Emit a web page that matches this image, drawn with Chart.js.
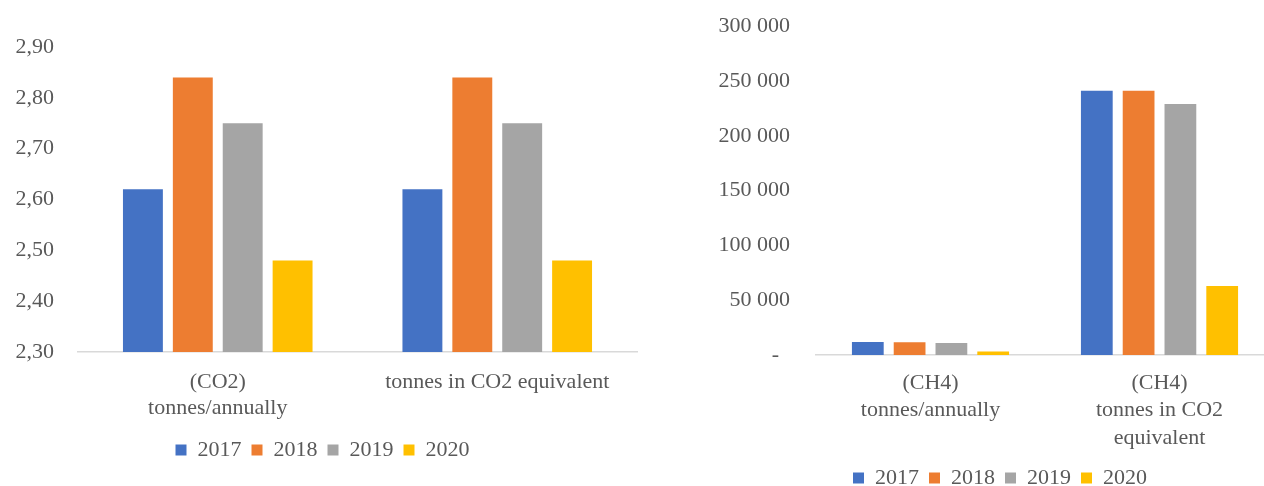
<!DOCTYPE html>
<html>
<head>
<meta charset="utf-8">
<script src="https://cdn.jsdelivr.net/npm/chart.js@4"></script>
<style>
  html, body { margin: 0; padding: 0; background: #fff; overflow: hidden; width: 1264px; height: 486px; }
  #co2 { position: absolute; left: 0; top: 0; }
  #ch4 { position: absolute; left: 700px; top: -13px; }
</style>
</head>
<body>
<canvas id="co2" width="650" height="486"></canvas>
<canvas id="ch4" width="600" height="523"></canvas>
<script>
const years = ['2017', '2018', '2019', '2020'];
const colors = ['#4472C4', '#ED7D31', '#A5A5A5', '#FFC000'];

const co2Labels = [['(CO2)', 'tonnes/annually'], 'tonnes in CO2 equivalent'];
const co2_2017 = [2.62, 2.62];
const co2_2018 = [2.84, 2.84];
const co2_2019 = [2.75, 2.75];
const co2_2020 = [2.48, 2.48];

const ch4Labels = [['(CH4)', 'tonnes/annually'], ['(CH4)', 'tonnes in CO2', 'equivalent']];
const ch4_2017 = [11800, 241000];
const ch4_2018 = [11600, 241000];
const ch4_2019 = [11000, 229000];
const ch4_2020 = [3100, 63000];

const serif = '"Liberation Serif", "Times New Roman", serif';
const font = {family: serif, size: 22, lineHeight: 1.2};
const textColor = '#595959';

function makeSets(series, cat, bar) {
    return series.map((data, i) => ({
        label: years[i],
        data: data,
        backgroundColor: colors[i],
        categoryPercentage: cat,
        barPercentage: bar
    }));
}

function legendOpts() {
    return {
        position: 'bottom',
        labels: {boxWidth: 11, boxHeight: 11, padding: 10, color: textColor, font: font}
    };
}

new Chart(document.getElementById('co2').getContext('2d'), {
    type: 'bar',
    data: {
        labels: co2Labels,
        datasets: makeSets([co2_2017, co2_2018, co2_2019, co2_2020], 0.714, 0.8)
    },
    options: {
        responsive: false,
        animation: false,
        layout: {padding: {left: 8, right: 13, top: 47, bottom: 15}},
        plugins: {legend: legendOpts(), tooltip: {enabled: false}},
        scales: {
            x: {
                grid: {display: false, drawTicks: false},
                border: {display: true, color: '#D9D9D9', width: 1.5},
                ticks: {color: textColor, font: font, padding: 17, maxRotation: 0, autoSkip: false},
                afterFit: s => { s.height = 77; }
            },
            y: {
                min: 2.3,
                max: 2.9,
                grid: {display: false, drawTicks: false},
                border: {display: false},
                ticks: {
                    stepSize: 0.1,
                    color: textColor,
                    font: font,
                    padding: 24,
                    callback: v => v.toFixed(2).replace('.', ',')
                },
                afterFit: s => { s.width = 70; }
            }
        }
    }
});

new Chart(document.getElementById('ch4').getContext('2d'), {
    type: 'bar',
    data: {
        labels: ch4Labels,
        datasets: makeSets([ch4_2017, ch4_2018, ch4_2019, ch4_2020], 0.73, 0.76)
    },
    options: {
        responsive: false,
        animation: false,
        layout: {padding: {left: 0, right: 0, top: 13, bottom: 11}},
        plugins: {legend: legendOpts(), tooltip: {enabled: false}},
        scales: {
            x: {
                grid: {display: false, drawTicks: false},
                border: {display: true, color: '#D9D9D9', width: 1.5},
                ticks: {color: textColor, font: {family: serif, size: 22, lineHeight: 1.25}, padding: 14, maxRotation: 0, autoSkip: false},
                afterFit: s => { s.height = 102; }
            },
            y: {
                min: 0,
                max: 300000,
                grid: {display: false, drawTicks: false},
                border: {display: false},
                ticks: {
                    stepSize: 50000,
                    color: textColor,
                    font: font,
                    padding: 26,
                    callback: v => v === 0 ? '-  ' : v.toLocaleString('en-US').replace(/,/g, ' ')
                },
                afterFit: s => { s.width = 116; }
            },
            // empty strip on the right so the plot ends where the picture is cut
            yRight: {
                position: 'right',
                grid: {display: false, drawTicks: false},
                border: {display: false},
                ticks: {display: false},
                afterFit: s => { s.width = 26; }
            }
        }
    }
});
</script>
</body>
</html>
